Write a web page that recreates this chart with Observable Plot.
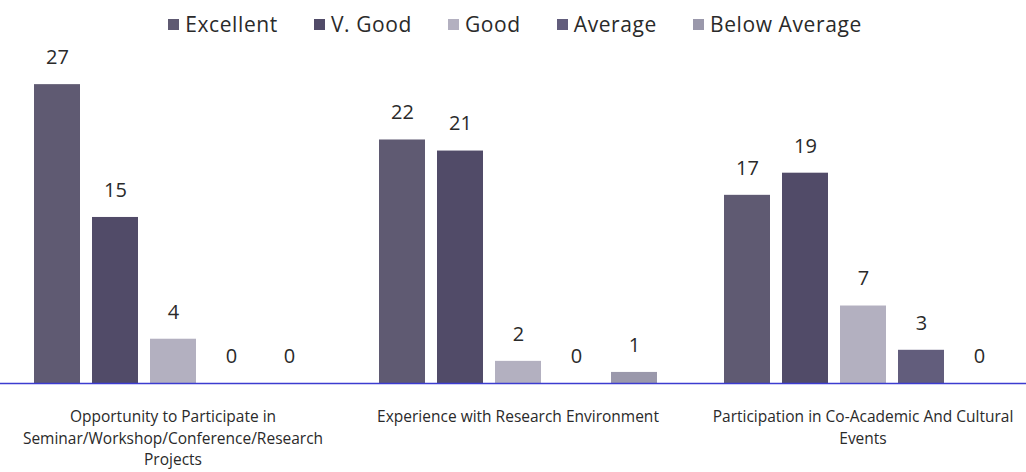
<!DOCTYPE html>
<html>
<head>
<meta charset="utf-8">
<script src="https://cdn.jsdelivr.net/npm/d3@7"></script>
<script src="https://cdn.jsdelivr.net/npm/@observablehq/plot@0.6"></script>
<style>
  html, body { margin: 0; padding: 0; background: #fff; overflow: hidden; }
  body { width: 1026px; height: 472px; font-family: "Open Sans", "Noto Sans", sans-serif; }
  #legend { height: 40px; padding-top: 8px; display: flex; justify-content: center; align-items: center; padding-left: 4px; box-sizing: border-box; }
  .item { display: flex; align-items: center; font-size: 21px; letter-spacing: 0.6px; color: #2a2a2a; margin: 0 18px; }
  .sw { width: 11px; height: 11px; margin-right: 6px; }
  svg { display: block; }
</style>
</head>
<body>
<div id="legend"></div>
<div id="chart"></div>
<script>
const groups = [
  "Opportunity to Participate in Seminar/Workshop/Conference/Research Projects",
  "Experience with Research Environment",
  "Participation in Co-Academic And Cultural Events"
];
const groupLabels = [
  "Opportunity to Participate in\nSeminar/Workshop/Conference/Research\nProjects",
  "Experience with Research Environment",
  "Participation in Co-Academic And Cultural\nEvents"
];
const ratings = ["Excellent", "V. Good", "Good", "Average", "Below Average"];
const colors = ["#5f5a72", "#514b68", "#b3b0c0", "#625d7c", "#9a98ab"];
const excellent = [27, 22, 17];
const vgood = [15, 21, 19];
const good = [4, 2, 7];
const average = [0, 0, 3];
const belowAverage = [0, 1, 0];

const seriesValues = [excellent, vgood, good, average, belowAverage];
const data = [];
groups.forEach((g, gi) => {
  ratings.forEach((r, ri) => {
    data.push({group: g, rating: r, value: seriesValues[ri][gi]});
  });
});

// legend
const leg = document.getElementById("legend");
ratings.forEach((r, i) => {
  const it = document.createElement("div");
  it.className = "item";
  const sw = document.createElement("span");
  sw.className = "sw";
  sw.style.background = colors[i];
  it.appendChild(sw);
  it.appendChild(document.createTextNode(r));
  leg.appendChild(it);
});

const chart = Plot.plot({
  width: 1026,
  height: 432,
  marginLeft: 0,
  marginRight: -9,
  marginTop: 22,
  marginBottom: 89,
  style: {fontFamily: "'Open Sans', 'Noto Sans', sans-serif", color: "#2a2a2a", background: "#fff", overflow: "visible"},
  fx: {domain: groups, padding: 0, label: null},
  x: {domain: ratings, paddingInner: 0.21, paddingOuter: 0.55, axis: null},
  y: {domain: [0, 29], axis: null},
  color: {domain: ratings, range: colors},
  marks: [
    Plot.barY(data, {fx: "group", x: "rating", y: "value", fill: "rating"}),
    Plot.text(data, {fx: "group", x: "rating", y: "value", text: d => String(d.value), dy: -27, fontSize: 20, fill: "#2a2a2a"}),
    Plot.ruleY([0], {stroke: "#3c3cd0", strokeWidth: 1.5}),
    Plot.axisFx({
      anchor: "bottom",
      tickSize: 0,
      tickPadding: 23,
      fontSize: 15.5,
      lineHeight: 1.4,
      label: null,
      fill: "#2a2a2a",
      tickFormat: d => groupLabels[groups.indexOf(d)]
    })
  ]
});
document.getElementById("chart").appendChild(chart);
</script>
</body>
</html>
